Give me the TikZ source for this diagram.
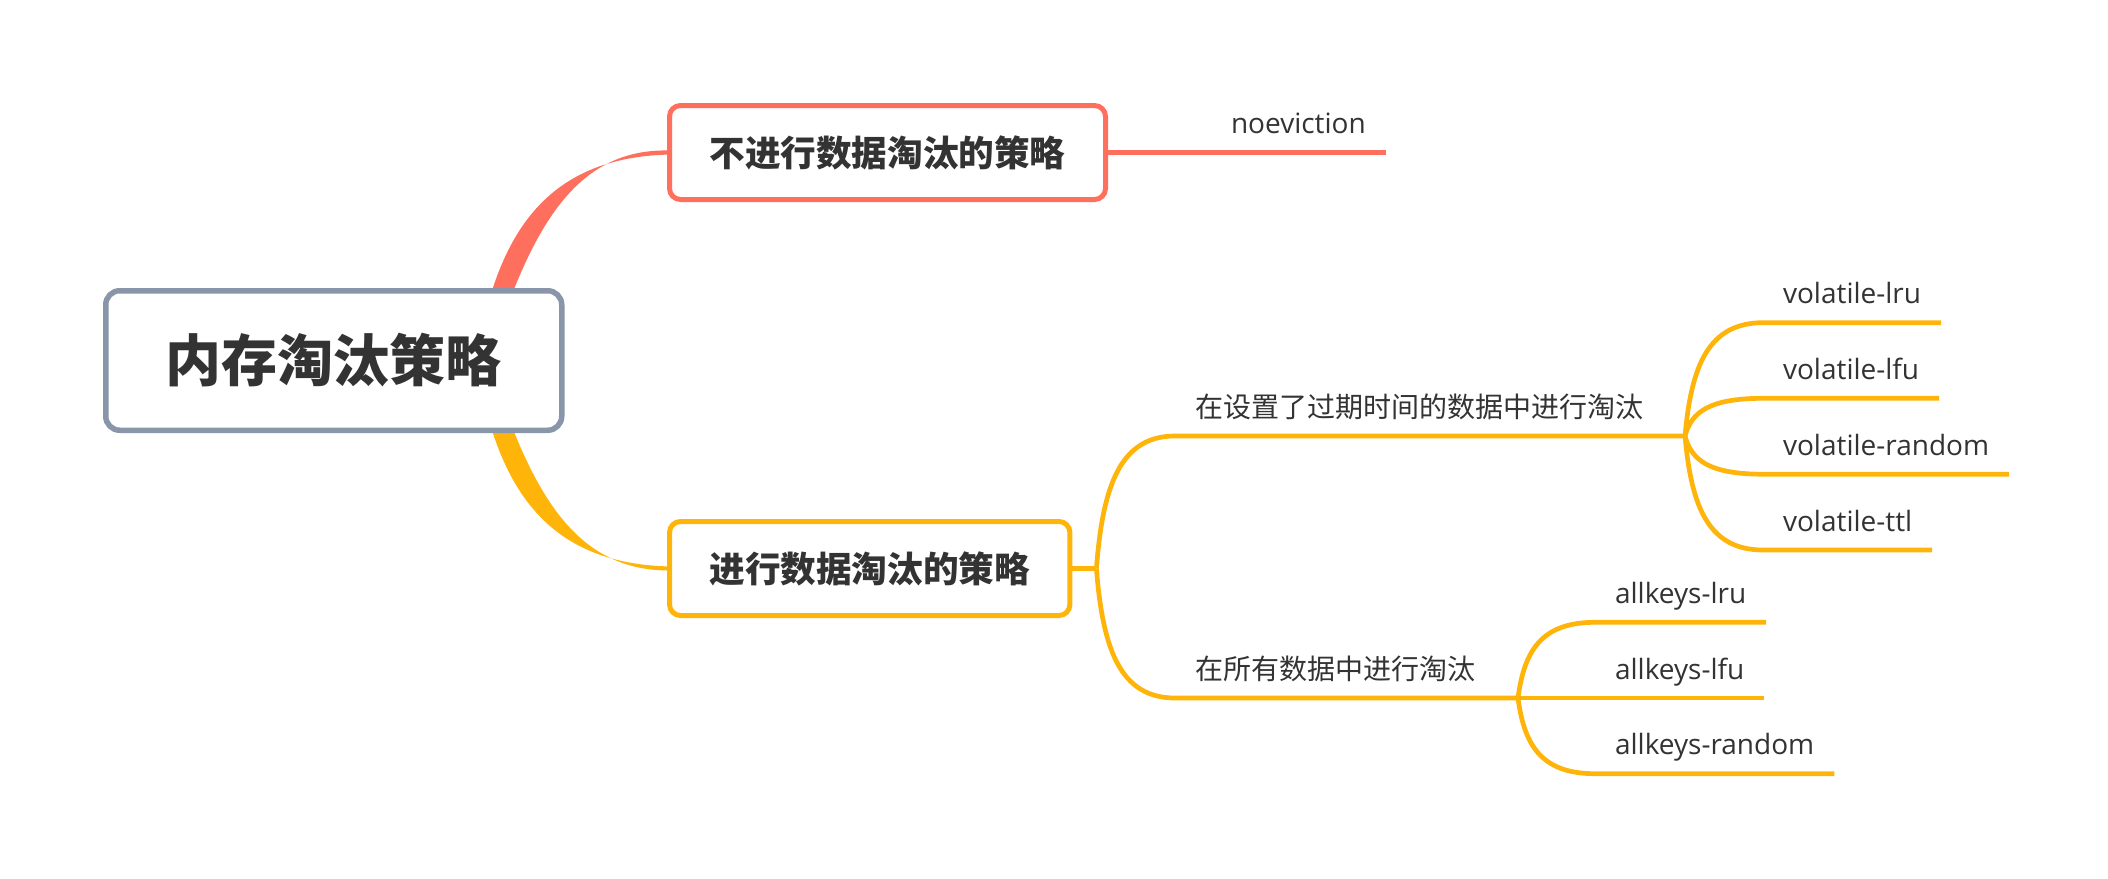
\documentclass[tikz,border=0pt]{standalone}
\usepackage{fontspec}
\setmainfont{Open Sans}
\newfontfamily\cjk{Noto Sans CJK SC}
\usetikzlibrary{calc,backgrounds}
\definecolor{cred}{RGB}{255,111,94}
\definecolor{corange}{RGB}{255,180,10}
\definecolor{cgray}{RGB}{137,149,168}
\definecolor{ctext}{RGB}{51,51,51}
\newcommand\brc[2]{let \p1=(#1), \p2=(#2) in (\p1) .. controls ({\x1+0.08*(\x2-\x1)},{\y1+0.62*(\y2-\y1)}) and ({\x1+0.3*(\x2-\x1)},\y2) .. (\p2)}
\begin{document}
\begin{tikzpicture}[x=1pt,y=-1pt,
  rootbox/.style={draw=cgray,line width=5.5pt,fill=white,rounded corners=14pt,
    inner xsep=60pt,minimum height=139.5pt,text=ctext,
    font=\cjk\bfseries\fontsize{56}{64}\selectfont},
  lonebox/.style={line width=5pt,fill=white,rounded corners=11pt,
    inner xsep=40pt,minimum height=94pt,text=ctext,
    font=\cjk\bfseries\fontsize{35.6}{42}\selectfont},
  leaf/.style={inner xsep=20pt,inner ysep=0pt,outer sep=0pt,text height=21pt,text depth=19pt,
    text=ctext,font=\fontsize{28}{34}\selectfont,anchor=south west},
  cleaf/.style={leaf,font=\cjk\fontsize{28}{34}\selectfont},
  oline/.style={draw=corange,line width=4.7pt},
  rline/.style={draw=cred,line width=4.2pt}]
\useasboundingbox (0,0) rectangle (2108,878);
% boxes
\node[rootbox,anchor=west] (root) at (103,360.5) {内存淘汰策略};
\node[lonebox,draw=cred,anchor=west] (top) at (667,152.5) {不进行数据淘汰的策略};
\node[lonebox,draw=corange,anchor=west] (bot) at (667,568.5) {进行数据淘汰的策略};
% leaves
\node[leaf] (noev) at ($(top.east)+(103,0)$) {noeviction};
\node[cleaf] (b1) at (1175,436) {在设置了过期时间的数据中进行淘汰};
\node[cleaf] (b2) at (1175,698) {在所有数据中进行淘汰};
\node[leaf] (vlru) at (1763,322.7) {volatile-lru};
\node[leaf] (vlfu) at (1763,398.3) {volatile-lfu};
\node[leaf] (vrand) at (1763,474.2) {volatile-random};
\node[leaf] (vttl) at (1763,550) {volatile-ttl};
\node[leaf] (alru) at (1595,622.3) {allkeys-lru};
\node[leaf] (alfu) at (1595,698) {allkeys-lfu};
\node[leaf] (arand) at (1595,773.7) {allkeys-random};
\coordinate (f0) at ($(bot.east)+(24,0)$);
\coordinate (f1) at (1685,436);
\coordinate (f2) at (1518,698);
% connectors
\begin{pgfonlayer}{background}
\fill[white] (0,0) rectangle (2108,878);
\fill[cred] ($(root.center)+(165,-30.5)$) .. controls (537,220) and (580,147.5) .. ($(top.west)+(4,-2)$)
  -- ($(top.west)+(4,2)$) .. controls (562,156.5) and (506,215) .. ($(root.center)+(148,-30.5)$) -- cycle;
\fill[corange] ($(root.center)+(165,30.5)$) .. controls (537,501) and (580,571.5) .. ($(bot.west)+(4,2)$)
  -- ($(bot.west)+(4,-2)$) .. controls (562,564.5) and (506,506) .. ($(root.center)+(148,30.5)$) -- cycle;
\end{pgfonlayer}
\draw[rline] (top.east) -- (noev.south west) -- (noev.south east);
\draw[oline] (bot.east) -- (f0);
\draw[oline] \brc{f0}{b1.south west} -- (b1.south east) -- (f1);
\draw[oline] \brc{f0}{b2.south west} -- (b2.south east) -- (f2);
\draw[oline] \brc{f1}{vlru.south west} -- (vlru.south east);
\draw[oline] \brc{f1}{vlfu.south west} -- (vlfu.south east);
\draw[oline] \brc{f1}{vrand.south west} -- (vrand.south east);
\draw[oline] \brc{f1}{vttl.south west} -- (vttl.south east);
\draw[oline] \brc{f2}{alru.south west} -- (alru.south east);
\draw[oline] \brc{f2}{alfu.south west} -- (alfu.south east);
\draw[oline] \brc{f2}{arand.south west} -- (arand.south east);
\end{tikzpicture}
\end{document}
